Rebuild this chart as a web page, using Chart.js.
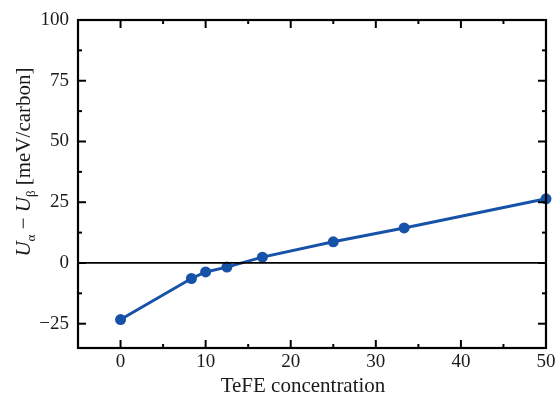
<!DOCTYPE html>
<html>
<head>
<meta charset="utf-8">
<script src="https://cdn.jsdelivr.net/npm/chart.js@4/dist/chart.umd.min.js"></script>
<style>
html,body{margin:0;padding:0;background:#fff;}
#wrap{width:555px;height:397px;}
</style>
</head>
<body>
<div id="wrap"><canvas id="c" width="555" height="397"></canvas></div>
<script>
const concentrations = [0, 8.33, 10, 12.5, 16.67, 25, 33.33, 50];
const energyDiff = [-23.3, -6.4, -3.7, -1.7, 2.4, 8.7, 14.4, 26.4];
const xTicks = [0, 10, 20, 30, 40, 50];
const xMinorTicks = [5, 15, 25, 35, 45];
const yTicks = [-25, 0, 25, 50, 75, 100];
const yMinorTicks = [-12.5, 12.5, 37.5, 62.5, 87.5];
const xTitle = 'TeFE concentration';
const yTitleUnit = ' [meV/carbon]';

const FONT = '"Liberation Serif", "Times New Roman", serif';
const BLUE = '#1652a8';

const framePlugin = {
  id: 'frame',
  afterDatasetsDraw(chart) {
    const ctx = chart.ctx;
    const a = chart.chartArea;
    const xs = chart.scales.x, ys = chart.scales.y;
    ctx.save();
    ctx.strokeStyle = '#000';
    ctx.lineWidth = 1.8;
    const y0 = ys.getPixelForValue(0);
    ctx.beginPath(); ctx.moveTo(a.left, y0); ctx.lineTo(a.right, y0); ctx.stroke();
    ctx.lineWidth = 2.2;
    ctx.strokeRect(a.left, a.top, a.right - a.left, a.bottom - a.top);
    ctx.lineWidth = 2;
    const major = 8, minor = 4;
    const tickX = (vals, len) => vals.forEach(v => {
      const px = xs.getPixelForValue(v);
      ctx.beginPath(); ctx.moveTo(px, a.bottom); ctx.lineTo(px, a.bottom - len); ctx.stroke();
      ctx.beginPath(); ctx.moveTo(px, a.top); ctx.lineTo(px, a.top + len); ctx.stroke();
    });
    const tickY = (vals, len) => vals.forEach(v => {
      const py = ys.getPixelForValue(v);
      ctx.beginPath(); ctx.moveTo(a.left, py); ctx.lineTo(a.left + len, py); ctx.stroke();
      ctx.beginPath(); ctx.moveTo(a.right, py); ctx.lineTo(a.right - len, py); ctx.stroke();
    });
    tickX(xTicks, major); tickX(xMinorTicks, minor);
    tickY(yTicks, major); tickY(yMinorTicks, minor);
    ctx.restore();
  },
  afterDraw(chart) {
    const ctx = chart.ctx;
    ctx.save();
    ctx.fillStyle = '#1a1a1a';
    ctx.font = '21px ' + FONT;
    ctx.textAlign = 'center';
    ctx.textBaseline = 'alphabetic';
    ctx.fillText(xTitle, 303, 392);
    const main = '21px ' + FONT, ital = 'italic 21px ' + FONT, sub = '13px ' + FONT;
    const parts = [
      {t: 'U', f: ital, dy: 0},
      {t: 'α', f: sub, dy: 5},
      {t: ' − ', f: main, dy: 0},
      {t: 'U', f: ital, dy: 0},
      {t: 'β', f: sub, dy: 5},
      {t: yTitleUnit, f: main, dy: 0}
    ];
    let total = 0;
    parts.forEach(p => { ctx.font = p.f; p.w = ctx.measureText(p.t).width; total += p.w; });
    ctx.translate(30, 162);
    ctx.rotate(-Math.PI / 2);
    ctx.textAlign = 'left';
    let x = -total / 2;
    parts.forEach(p => { ctx.font = p.f; ctx.fillText(p.t, x, p.dy); x += p.w; });
    ctx.restore();
  }
};

new Chart(document.getElementById('c'), {
  type: 'line',
  data: {
    labels: concentrations,
    datasets: [{
      data: concentrations.map((c, i) => ({x: c, y: energyDiff[i]})),
      borderColor: BLUE,
      backgroundColor: BLUE,
      borderWidth: 3,
      pointRadius: 5.5,
      pointHoverRadius: 5.5,
      pointBorderWidth: 0,
      tension: 0,
      clip: false
    }]
  },
  options: {
    responsive: false,
    animation: false,
    devicePixelRatio: 1,
    layout: {padding: {top: 20, right: 9, left: 0, bottom: 0}},
    plugins: {legend: {display: false}, tooltip: {enabled: false}},
    scales: {
      x: {
        type: 'linear', min: -5, max: 50,
        afterBuildTicks: s => { s.ticks = xTicks.map(v => ({value: v})); },
        afterFit: s => { s.height = 49; s.paddingRight = 0; s.paddingLeft = 0; },
        grid: {display: false, drawTicks: false},
        border: {display: false},
        ticks: {color: '#1a1a1a', padding: 3, font: {family: FONT, size: 19}, maxRotation: 0,
          callback: v => (v < 0 ? '−' + Math.abs(v) : String(v))}
      },
      y: {
        type: 'linear', min: -35, max: 100,
        afterBuildTicks: s => { s.ticks = yTicks.map(v => ({value: v})); },
        afterFit: s => { s.width = 78; s.paddingTop = 0; s.paddingBottom = 0; },
        grid: {display: false, drawTicks: false},
        border: {display: false},
        ticks: {color: '#1a1a1a', padding: 9, font: {family: FONT, size: 19},
          callback: v => (v < 0 ? '−' + Math.abs(v) : String(v))}
      }
    }
  },
  plugins: [framePlugin]
});
</script>
</body>
</html>
